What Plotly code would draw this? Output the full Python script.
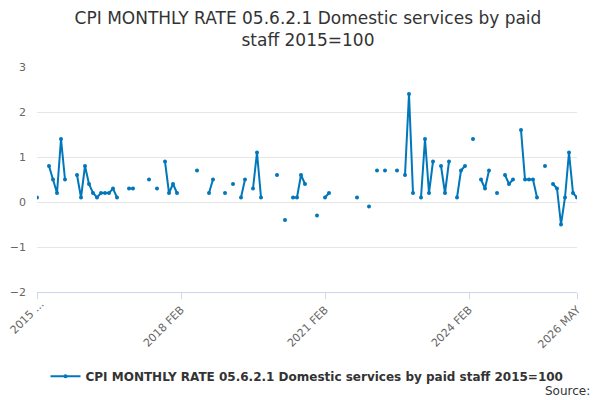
import plotly.graph_objects as go

months = ["JAN","FEB","MAR","APR","MAY","JUN","JUL","AUG","SEP","OCT","NOV","DEC"]
labels = []
y, m = 2015, 1
for i in range(136):
    labels.append(f"{y} {months[m]}")
    m += 1
    if m == 12:
        m = 0; y += 1

known = {0:0.1,3:0.8,4:0.5,5:0.2,6:1.4,7:0.5,10:0.6,11:0.1,12:0.8,13:0.4,14:0.2,15:0.1,16:0.2,17:0.2,18:0.2,
         19:0.3,20:0.1,23:0.3,24:0.3,28:0.5,30:0.3,32:0.9,33:0.2,34:0.4,35:0.2,40:0.7,43:0.2,44:0.5,47:0.2,
         49:0.4,51:0.1,52:0.5,54:0.3,55:1.1,56:0.1,60:0.6,62:-0.4,64:0.1,65:0.1,66:0.6,67:0.4,70:-0.3,72:0.1,
         73:0.2,80:0.1,83:-0.1,85:0.7,87:0.7,90:0.7,92:0.6,93:2.4,94:0.2,96:0.1,97:1.4,98:0.2,99:0.9,101:0.8,
         102:0.2,103:0.9,105:0.1,106:0.7,107:0.8,109:1.4,111:0.5,112:0.3,113:0.7,115:0.2,117:0.6,118:0.4,
         119:0.5,121:1.6,122:0.5,123:0.5,124:0.5,125:0.1,127:0.8,129:0.4,130:0.3,131:-0.5,132:0.1,133:1.1,
         134:0.2,135:0.1}
values = [known.get(i) for i in range(136)]
tick_idx = [0, 36, 72, 108, 135]
tick_text = ["", "2018 FEB", "2021 FEB", "2024 FEB", "2026 MAY"]
first_tick_label = "2015 ..."

fig = go.Figure(go.Scatter(
    x=list(range(136)), y=values, mode="lines+markers",
    line=dict(color="#0077bb", width=2), marker=dict(size=4, color="#0077bb"),
    name="<b>CPI MONTHLY RATE 05.6.2.1 Domestic services by paid staff 2015=100</b>",
    customdata=labels, hovertemplate="%{customdata}: %{y}<extra></extra>", connectgaps=False))

fig.update_layout(
    width=600, height=400, paper_bgcolor="white", plot_bgcolor="white",
    font=dict(family="DejaVu Sans", color="#333"),
    title=dict(text="CPI MONTHLY RATE 05.6.2.1 Domestic services by paid<br>staff 2015=100",
               x=0.5, xanchor="center", y=0.96, yref="container", yanchor="top",
               font=dict(size=17, color="#333")),
    margin=dict(l=29, r=31, t=59, b=116, autoexpand=False),
    showlegend=True,
    legend=dict(orientation="h", x=0.5, xanchor="center", y=-0.31, yanchor="top",
                font=dict(size=12, color="#333")),
    xaxis=dict(range=[0, 135], tickvals=tick_idx, ticktext=tick_text, tickangle=-45,
               showgrid=False, showline=True, linecolor="#ccd6eb", ticks="outside",
               tickcolor="#ccd6eb", ticklen=6, tickfont=dict(size=11, color="#666"),
               zeroline=False, automargin=False),
    yaxis=dict(range=[-2, 3], dtick=1, gridcolor="#e6e6e6", zeroline=False,
               tickfont=dict(size=11, color="#666"), ticklabelstandoff=10, automargin=False),
    annotations=[
        dict(text="Source:", xref="paper", yref="paper", x=1.028, y=-0.40,
             xanchor="right", yanchor="top", showarrow=False,
             font=dict(size=12, color="#333")),
        dict(text=first_tick_label, x=tick_idx[0], xref="x", y=-2, yref="y", textangle=-45,
             xanchor="right", yanchor="top", showarrow=False, yshift=-3, xshift=12,
             font=dict(size=11, color="#666")),
    ],
)
fig.write_html("out.html")
